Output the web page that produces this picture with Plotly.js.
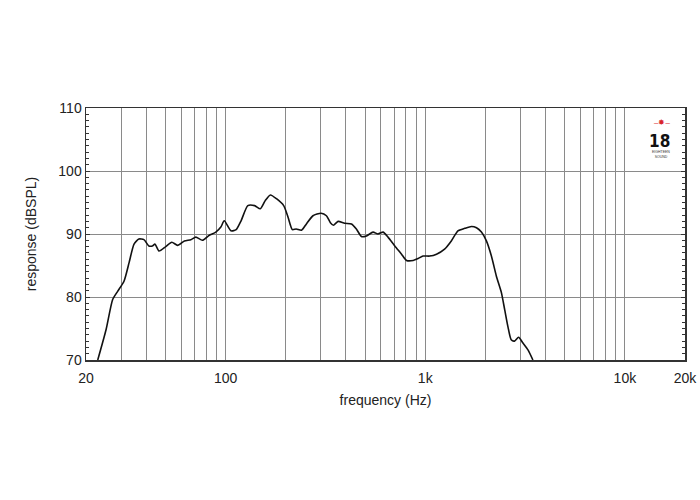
<!DOCTYPE html>
<html>
<head>
<meta charset="utf-8">
<script src="https://cdn.plot.ly/plotly-3.0.1.min.js"></script>
<style>html,body{margin:0;padding:0;background:#fff;}#chart{width:700px;height:500px;}</style>
</head>
<body>
<div id="chart"></div>
<script>
// Frequency response data
const freqHz = [22.9, 25.2, 27.2, 28.8, 31.0, 32.9, 34.8, 36.8, 39.0, 41.3, 43.0, 44.3, 46.4, 50.2, 53.8, 57.5, 62.2, 67.0, 71.0, 76.6, 82.9, 89.4, 94.7, 98.5, 106.6, 113, 119.6, 129.3, 139.8, 149.3, 158, 167.7, 179.9, 195.5, 205.4, 216, 226, 240, 254, 274, 301, 320, 335, 347, 366, 395, 427, 452, 479, 508, 548, 580, 615, 651, 704, 761, 806, 870, 921, 975, 1053, 1139, 1250, 1351, 1458, 1577, 1705, 1806, 1912, 2025, 2145, 2272, 2407, 2500, 2595, 2695, 2800, 2935, 3085, 3270, 3462];
const responseDb = [70, 74.8, 79.6, 80.9, 82.5, 85.5, 88.4, 89.2, 89.1, 88.1, 88.1, 88.4, 87.3, 88.0, 88.7, 88.2, 88.9, 89.1, 89.5, 89.0, 89.8, 90.3, 91.1, 92.1, 90.5, 90.7, 92.1, 94.5, 94.5, 94.0, 95.3, 96.2, 95.6, 94.5, 92.7, 90.7, 90.8, 90.6, 91.6, 92.9, 93.3, 92.9, 91.8, 91.4, 92.0, 91.7, 91.6, 90.8, 89.6, 89.7, 90.3, 90.0, 90.3, 89.5, 88.1, 86.8, 85.8, 85.8, 86.1, 86.5, 86.5, 86.8, 87.6, 88.9, 90.5, 90.9, 91.2, 91.0, 90.3, 88.9, 86.5, 83.3, 80.7, 78, 75.3, 73.2, 73.0, 73.6, 72.7, 71.6, 70];

// Axis ticks
const xTickVals = [20, 30, 40, 50, 60, 70, 80, 90, 100, 200, 300, 400, 500, 600, 700, 800, 900, 1000, 2000, 3000, 4000, 5000, 6000, 7000, 8000, 9000, 10000, 20000];
const xTickText = ['20', '', '', '', '', '', '', '', '100', '', '', '', '', '', '', '', '', '1k', '', '', '', '', '', '', '', '', '10k', '20k'];
const yTickVals = [70, 80, 90, 100, 110];

const trace = {
  x: freqHz, y: responseDb, type: 'scatter', mode: 'lines',
  line: {color: '#111111', width: 1.6, shape: 'spline', smoothing: 0.6},
  hoverinfo: 'x+y', showlegend: false
};

const layout = {
  width: 700, height: 500,
  margin: {l: 86, r: 15, t: 108, b: 140},
  paper_bgcolor: '#ffffff', plot_bgcolor: '#ffffff',
  font: {family: 'Liberation Sans, Arial, sans-serif', size: 14, color: '#222'},
  xaxis: {
    type: 'log',
    range: [Math.log10(20), Math.log10(20000)],
    tickmode: 'array', tickvals: xTickVals, ticktext: xTickText,
    ticks: '', ticklabelstandoff: 5,
    showgrid: true, gridcolor: '#8a8a8a', gridwidth: 1,
    showline: true, linecolor: '#333', linewidth: 1.5, mirror: true,
    zeroline: false,
    title: {text: 'frequency (Hz)', font: {size: 14, color: '#222'}, standoff: 10},
    tickfont: {size: 14, color: '#222'}
  },
  yaxis: {
    range: [70, 110],
    tickmode: 'array', tickvals: yTickVals,
    ticks: 'inside', ticklen: 4, tickcolor: '#333',
    minor: {dtick: 1, ticks: 'inside', ticklen: 3, tickcolor: '#333', showgrid: false},
    showgrid: true, gridcolor: '#8a8a8a', gridwidth: 1,
    showline: true, linecolor: '#333', linewidth: 1.5, mirror: 'ticks',
    zeroline: false,
    title: {text: 'response (dBSPL)', font: {size: 14, color: '#222'}, standoff: 18},
    tickfont: {size: 14, color: '#222'}
  },
  annotations: [
    {xref: 'paper', yref: 'paper', x: 0.978, y: 0.967, text: '–✸–', showarrow: false,
     font: {size: 8, color: '#d9232a'}},
    {xref: 'paper', yref: 'paper', x: 0.978, y: 0.915, text: '<b>18</b>', showarrow: false,
     font: {size: 17, color: '#111', family: 'Liberation Sans Narrow, DejaVu Sans Condensed, sans-serif'}},
    {xref: 'paper', yref: 'paper', x: 0.978, y: 0.84, text: 'EIGHTEEN<br>SOUND', showarrow: false,
     font: {size: 3.5, color: '#333'}}
  ]
};

Plotly.newPlot('chart', [trace], layout, {displayModeBar: false, staticPlot: true});
</script>
</body>
</html>
